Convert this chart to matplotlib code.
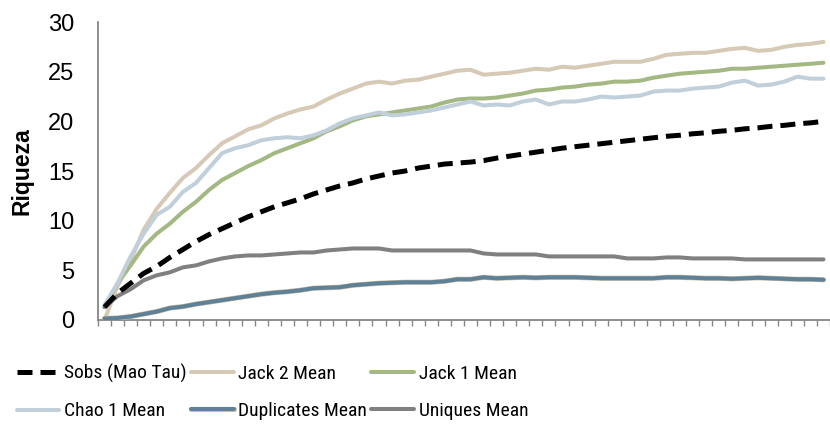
import matplotlib
matplotlib.use("Agg")
import matplotlib.pyplot as plt
import matplotlib.patheffects as pe
import numpy as np

# Species accumulation curves, 56 sampling units
sobs = [1.3, 2.7, 3.7, 4.7, 5.4, 6.3, 7.1, 7.9, 8.6, 9.2,
        9.8, 10.4, 10.9, 11.4, 11.8, 12.2, 12.7, 13.1, 13.5, 13.8,
        14.2, 14.5, 14.8, 15.0, 15.3, 15.5, 15.7, 15.8, 15.9, 16.05,
        16.3, 16.5, 16.7, 16.9, 17.1, 17.3, 17.45, 17.6, 17.75, 17.9,
        18.05, 18.2, 18.35, 18.5, 18.6, 18.75, 18.85, 19.0, 19.1, 19.25,
        19.35, 19.5, 19.6, 19.75, 19.85, 20.0]
jack2 = [0.0, 3.4, 6.0, 9.1, 11.2, 12.8, 14.3, 15.3, 16.6, 17.8,
         18.5, 19.2, 19.6, 20.3, 20.8, 21.2, 21.5, 22.2, 22.8, 23.3,
         23.8, 24.0, 23.8, 24.1, 24.2, 24.5, 24.8, 25.1, 25.2, 24.7,
         24.8, 24.9, 25.1, 25.3, 25.2, 25.5, 25.4, 25.6, 25.8, 26.0,
         26.0, 26.0, 26.3, 26.7, 26.8, 26.9, 26.9, 27.1, 27.3, 27.4,
         27.1, 27.2, 27.5, 27.7, 27.8, 28.0]
jack1 = [1.3, 3.7, 5.5, 7.4, 8.7, 9.7, 10.9, 11.9, 13.1, 14.1,
         14.8, 15.5, 16.1, 16.8, 17.3, 17.8, 18.3, 19.0, 19.5, 20.1,
         20.5, 20.7, 20.9, 21.1, 21.3, 21.5, 21.9, 22.2, 22.3, 22.3,
         22.4, 22.6, 22.8, 23.1, 23.2, 23.4, 23.5, 23.7, 23.8, 24.0,
         24.0, 24.1, 24.4, 24.6, 24.8, 24.9, 25.0, 25.1, 25.3, 25.3,
         25.4, 25.5, 25.6, 25.7, 25.8, 25.9]
chao1 = [1.5, 3.7, 6.4, 8.7, 10.6, 11.4, 12.9, 13.8, 15.3, 16.8,
         17.3, 17.6, 18.1, 18.3, 18.4, 18.3, 18.6, 19.1, 19.8, 20.3,
         20.6, 20.9, 20.6, 20.7, 20.9, 21.1, 21.4, 21.7, 22.0, 21.6,
         21.7, 21.6, 22.0, 22.2, 21.7, 22.0, 22.0, 22.2, 22.5, 22.4,
         22.5, 22.6, 23.0, 23.1, 23.1, 23.3, 23.4, 23.5, 23.9, 24.1,
         23.6, 23.7, 24.0, 24.5, 24.3, 24.3]
duplicates = [0.15, 0.2, 0.35, 0.6, 0.85, 1.2, 1.35, 1.6, 1.8, 2.0,
              2.2, 2.4, 2.6, 2.75, 2.85, 3.0, 3.2, 3.25, 3.3, 3.5,
              3.6, 3.7, 3.75, 3.8, 3.8, 3.8, 3.9, 4.1, 4.1, 4.3,
              4.2, 4.25, 4.3, 4.25, 4.3, 4.3, 4.3, 4.25, 4.2, 4.2,
              4.2, 4.2, 4.2, 4.3, 4.3, 4.25, 4.2, 4.2, 4.15, 4.2,
              4.25, 4.2, 4.15, 4.1, 4.1, 4.05]
uniques = [1.3, 2.4, 3.1, 4.0, 4.5, 4.8, 5.3, 5.5, 5.9, 6.2,
           6.4, 6.5, 6.5, 6.6, 6.7, 6.8, 6.8, 7.0, 7.1, 7.2,
           7.2, 7.2, 7.0, 7.0, 7.0, 7.0, 7.0, 7.0, 7.0, 6.7,
           6.6, 6.6, 6.6, 6.6, 6.4, 6.4, 6.4, 6.4, 6.4, 6.4,
           6.2, 6.2, 6.2, 6.3, 6.3, 6.2, 6.2, 6.2, 6.2, 6.1,
           6.1, 6.1, 6.1, 6.1, 6.1, 6.1]

x = np.arange(len(sobs))
axis_grey = "#868686"

plt.rcParams["font.family"] = ["Liberation Sans", "DejaVu Sans"]

fig = plt.figure(figsize=(8.30, 4.24), dpi=100)
ax = fig.add_axes([0.118, 0.2453, 0.882, 0.7027])

lw = 2.9
l_jack2, = ax.plot(x, jack2, color="#D6C9B5", lw=lw, label="Jack 2 Mean",
                   solid_capstyle="round", zorder=2)
l_jack1, = ax.plot(x, jack1, color="#A3B883", lw=lw, label="Jack 1 Mean",
                   solid_capstyle="round", zorder=3)
l_chao1, = ax.plot(x, chao1, color="#C0CFDA", lw=lw, label="Chao 1 Mean",
                   solid_capstyle="round", zorder=4)
l_dup, = ax.plot(x, duplicates, color="#5F8197", lw=lw, label="Duplicates Mean",
                 solid_capstyle="round", zorder=5)
l_dup.set_path_effects([pe.Stroke(linewidth=lw + 0.8, foreground="#CDBFA8"),
                        pe.Normal()])
l_uni, = ax.plot(x, uniques, color="#808080", lw=lw, label="Uniques Mean",
                 solid_capstyle="round", zorder=5)
l_sobs, = ax.plot(x, sobs, color="black", lw=3.6, label="Sobs (Mao Tau)",
                  linestyle=(0, (3.0, 1.6)), zorder=6)

ax.set_xlim(-0.5, len(x) - 0.5)
ax.set_ylim(0, 30)
ax.set_yticks(np.arange(0, 31, 5))
ax.set_xticks(np.arange(-0.5, len(x), 1.0))
ax.set_xticklabels([])
ax.tick_params(axis="x", direction="out", length=4.3, width=1, color=axis_grey)
ax.tick_params(axis="y", length=0, pad=17, labelsize=17)

for side in ("top", "right"):
    ax.spines[side].set_visible(False)
for side in ("left", "bottom"):
    ax.spines[side].set_color(axis_grey)
    ax.spines[side].set_linewidth(1.3)

ax.set_ylabel("Riqueza", fontsize=16.5, fontweight="bold", va="center")
ax.yaxis.set_label_coords(-0.104, 0.5)

# legend fills column by column, so order handles to read row-wise
handles = [l_sobs, l_chao1, l_jack2, l_dup, l_jack1, l_uni]
fig.legend(handles=handles, labels=[h.get_label() for h in handles],
           ncol=3, loc="upper left", bbox_to_anchor=(0.02, 0.142),
           frameon=False, borderpad=0, borderaxespad=0,
           handlelength=2.2, handletextpad=0.25, columnspacing=0.2,
           labelspacing=1.0,
           prop={"family": ["Roboto Condensed", "Liberation Sans"], "size": 14})

fig.savefig("out.png", dpi=100)
